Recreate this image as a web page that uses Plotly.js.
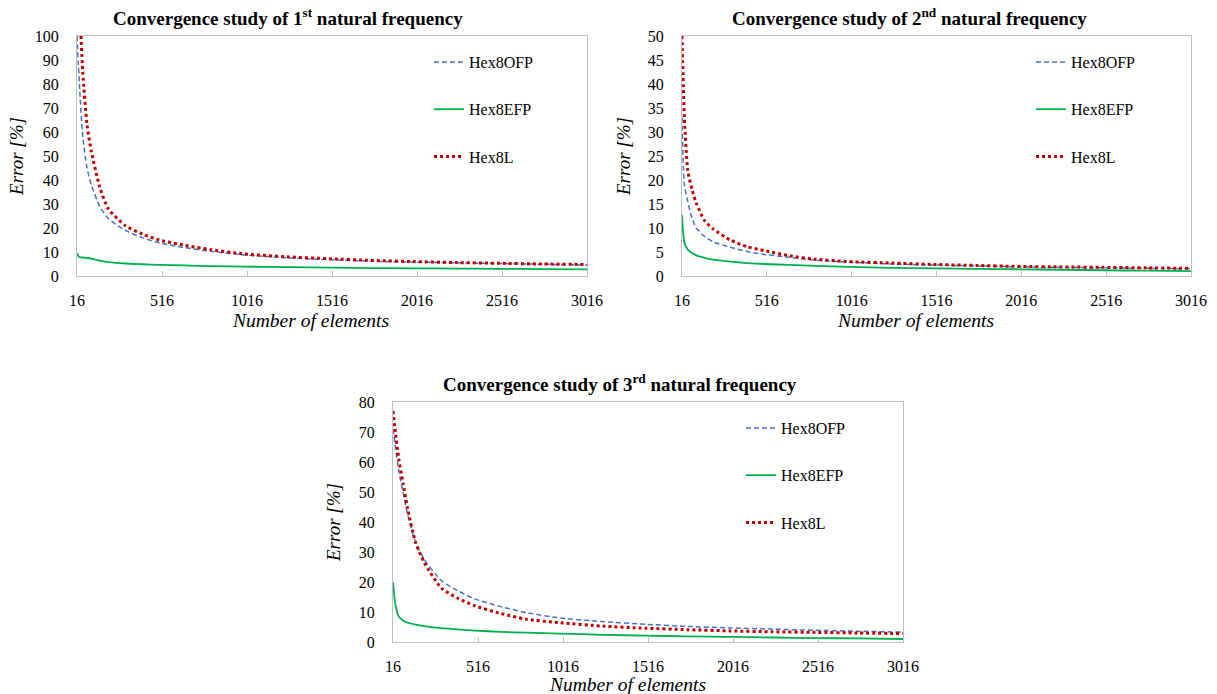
<!DOCTYPE html>
<html><head><meta charset="utf-8">
<script src="https://cdn.plot.ly/plotly-3.0.1.min.js"></script>
<style>
html,body{margin:0;padding:0;background:#fff}
#chart{width:1217px;height:694px}
#chart text, #chart tspan{font-family:'Liberation Serif', serif !important}
</style>
</head><body>
<div id="chart"></div><script>
const elements = [16, 30, 50, 75, 100, 150, 200, 300, 400, 500, 650, 800, 1000, 1250, 1500, 1750, 2000, 2250, 2500, 2750, 3016];
const xTicks = [16, 516, 1016, 1516, 2016, 2516, 3016];
const seriesNames = ['Hex8OFP', 'Hex8EFP', 'Hex8L'];
const chartTitles = [
  'Convergence study of 1<sup>st</sup> natural frequency',
  'Convergence study of 2<sup>nd</sup> natural frequency',
  'Convergence study of 3<sup>rd</sup> natural frequency'
];

// 1st natural frequency error [%]
const f1_hex8ofp = [100, 80, 58, 45, 38, 29, 24, 19, 16, 13.8, 11.8, 10.3, 8.8, 7.6, 6.8, 6.2, 5.8, 5.5, 5.2, 4.9, 4.6];
const f1_hex8efp = [9.5, 7.8, 7.7, 7.5, 7.2, 6.4, 5.8, 5.2, 4.9, 4.6, 4.4, 4.1, 3.9, 3.7, 3.5, 3.3, 3.2, 3.1, 3.0, 2.9, 2.8];
const f1_hex8l   = [140, 115, 85, 63, 52, 37, 28, 21, 17.5, 15, 12.8, 11, 9.2, 8, 7.2, 6.5, 6, 5.6, 5.3, 5, 4.8];

// 2nd natural frequency error [%]
const f2_hex8ofp = [33, 19, 15.5, 12, 10, 8.2, 7.1, 6, 5.1, 4.5, 3.9, 3.3, 2.9, 2.5, 2.3, 2.1, 1.9, 1.8, 1.7, 1.6, 1.5];
const f2_hex8efp = [12.7, 7, 5.5, 4.8, 4.3, 3.8, 3.4, 3.0, 2.7, 2.5, 2.3, 2.1, 1.9, 1.7, 1.6, 1.5, 1.4, 1.3, 1.2, 1.1, 1.0];
const f2_hex8l   = [50, 33, 22, 18, 15.2, 11.5, 9.8, 7.5, 6.1, 5.3, 4.2, 3.5, 3.0, 2.7, 2.4, 2.2, 2.0, 1.9, 1.8, 1.7, 1.6];

// 3rd natural frequency error [%]
const f3_hex8ofp = [71, 65, 57, 50, 43, 33, 27.5, 20.5, 17, 14.3, 11.8, 9.8, 8.0, 6.8, 5.9, 5.2, 4.7, 4.3, 3.9, 3.6, 3.3];
const f3_hex8efp = [20, 12.5, 8.5, 7.2, 6.5, 5.8, 5.3, 4.6, 4.2, 3.8, 3.4, 3.1, 2.8, 2.4, 2.1, 1.9, 1.7, 1.5, 1.3, 1.2, 1.0];
const f3_hex8l   = [77, 70, 61, 53, 45, 33, 26.5, 18, 14.5, 12, 9.5, 7.6, 6.4, 5.3, 4.6, 4.1, 3.7, 3.4, 3.2, 3.0, 2.8];

const yRanges = [[0, 100], [0, 50], [0, 80]];
const yDticks = [10, 5, 10];

const FONT = 'Liberation Serif';
const styles = [
  {color: '#4472C4', width: 1.5, dash: '5px,3px'},
  {color: '#00B050', width: 1.8, dash: 'solid'},
  {color: '#C00000', width: 3, dash: '3px,3px'}
];
const allSeries = [
  [f1_hex8ofp, f1_hex8efp, f1_hex8l],
  [f2_hex8ofp, f2_hex8efp, f2_hex8l],
  [f3_hex8ofp, f3_hex8efp, f3_hex8l]
];

const W = 1217, H = 694;
// plot boxes in pixels [left, right, top, bottom]
const boxes = [[77, 587, 36, 276], [682, 1191, 36, 276], [393, 903, 402, 642]];
const legendPos = [[429, 45], [1031, 45], [741, 411]];
const titlePos = [[288, 17], [909, 17], [620, 383]];
const xTitlePos = [[310, 320], [915, 320], [627, 684]];
const yStandoff = [6, 12, 13];

const traces = [];
allSeries.forEach((ser, c) => {
  ser.forEach((vals, s) => {
    traces.push({
      x: elements, y: vals, type: 'scatter', mode: 'lines', name: seriesNames[s],
      line: {color: styles[s].color, width: styles[s].width, dash: styles[s].dash, shape: 'spline', smoothing: 0.6},
      xaxis: c === 0 ? 'x' : 'x' + (c + 1), yaxis: c === 0 ? 'y' : 'y' + (c + 1),
      legend: c === 0 ? 'legend' : 'legend' + (c + 1),
      legendgroup: 'g' + c + '_' + s, hoverinfo: 'skip'
    });
  });
});

const layout = {
  width: W, height: H, margin: {l: 0, r: 0, t: 0, b: 0},
  paper_bgcolor: '#fff', plot_bgcolor: '#fff',
  font: {family: FONT, size: 16, color: '#000'},
  annotations: [], showlegend: true
};
boxes.forEach((b, c) => {
  const sx = c === 0 ? '' : String(c + 1);
  layout['xaxis' + sx] = {
    domain: [b[0] / W, b[1] / W], anchor: 'y' + sx, range: [16, 3016],
    tickmode: 'array', tickvals: xTicks, ticktext: xTicks.map(String),
    ticks: 'inside', ticklen: 5, tickcolor: '#BFBFBF',
    showline: true, linecolor: '#BFBFBF', linewidth: 1.3, mirror: true,
    showgrid: false, zeroline: false, ticklabelstandoff: 10,
    tickfont: {family: FONT, size: 16, color: '#000'}, fixedrange: true
  };
  layout['yaxis' + sx] = {
    domain: [1 - b[3] / H, 1 - b[2] / H], anchor: 'x' + sx, range: yRanges[c], dtick: yDticks[c],
    ticks: '', showline: true, linecolor: '#BFBFBF', linewidth: 1.3, mirror: true,
    showgrid: false, zeroline: false, ticklabelstandoff: 14,
    tickfont: {family: FONT, size: 16, color: '#000'},
    title: {text: '<i>Error [%]</i>', standoff: yStandoff[c], font: {family: FONT, size: 19, color: '#000'}}, fixedrange: true
  };
  layout[c === 0 ? 'legend' : 'legend' + (c + 1)] = {
    x: legendPos[c][0] / W, y: 1 - legendPos[c][1] / H, xanchor: 'left', yanchor: 'top',
    bgcolor: 'rgba(0,0,0,0)', font: {family: FONT, size: 16, color: '#000'},
    traceorder: 'grouped', tracegroupgap: 23.5, itemwidth: 30
  };
  layout.annotations.push({
    xref: 'paper', yref: 'paper', x: titlePos[c][0] / W, y: 1 - titlePos[c][1] / H,
    xanchor: 'center', yanchor: 'middle', showarrow: false,
    text: '<b>' + chartTitles[c] + '</b>', font: {family: FONT, size: 19, color: '#000'}
  });
  layout.annotations.push({
    xref: 'paper', yref: 'paper', x: xTitlePos[c][0] / W, y: 1 - xTitlePos[c][1] / H,
    xanchor: 'center', yanchor: 'middle', showarrow: false,
    text: '<i>Number of elements</i>', font: {family: FONT, size: 19.5, color: '#000'}
  });
});

Plotly.newPlot('chart', traces, layout, {displayModeBar: false});
</script></body></html>
